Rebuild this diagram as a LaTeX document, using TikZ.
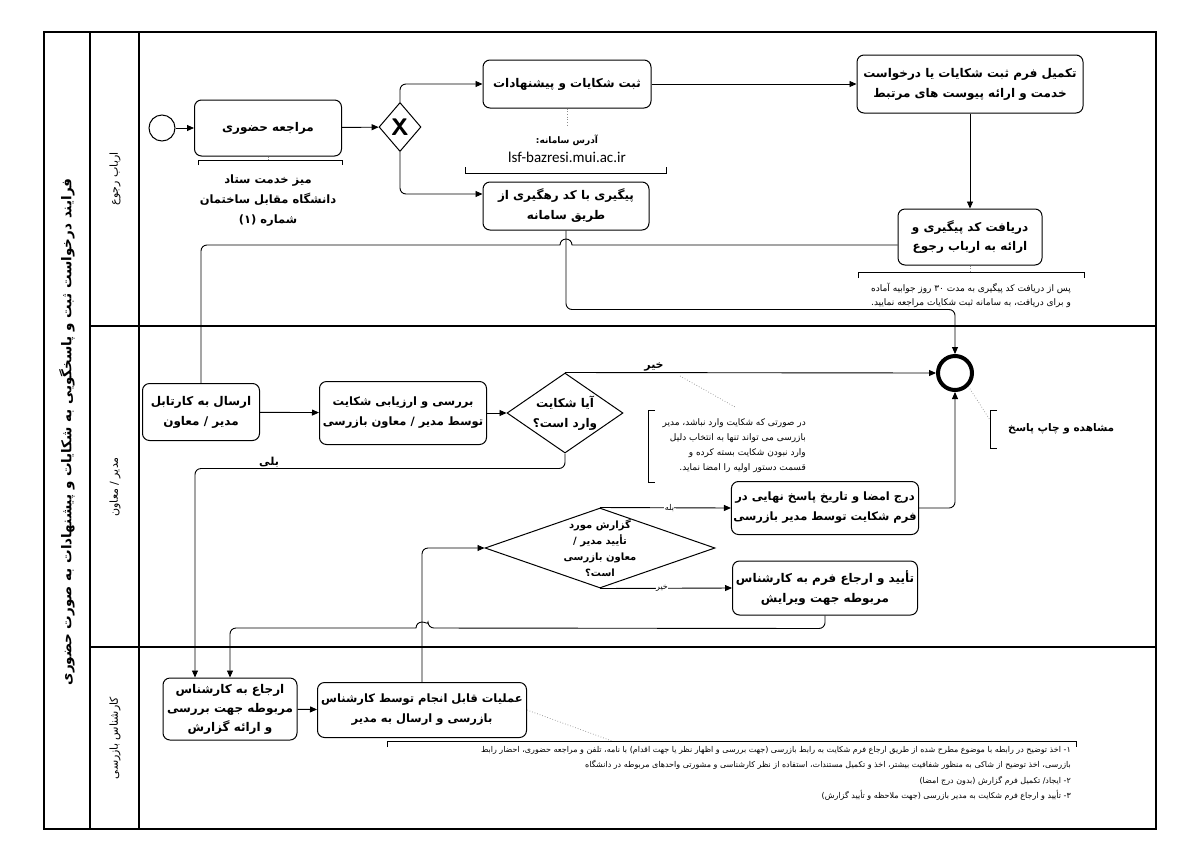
\documentclass[tikz,border=0pt]{standalone}
\usepackage{fontspec}
\usetikzlibrary{arrows.meta,positioning,shapes.geometric}
\TeXXeTstate=1
\newfontfamily\farsi[Script=Arabic]{DejaVu Sans}
\newfontfamily\urlfont{Carlito}
\newcommand{\fatxt}[1]{\beginR #1\endR}
\tikzset{
  task/.style={draw, rounded corners=7pt, line width=1pt, align=center,
    font=\farsi\bfseries\fontsize{12}{20}\selectfont, inner sep=2pt},
  gate/.style={draw, diamond, line width=1pt, inner sep=0pt},
  gatetext/.style={font=\farsi\bfseries\fontsize{12}{20}\selectfont, align=center, inner sep=0pt},
  flow/.style={-{Triangle[length=7pt,width=6pt]}, line width=0.9pt},
  link/.style={line width=0.9pt},
  assoc/.style={dotted, line width=0.7pt, draw=black!45},
  bracket/.style={line width=0.8pt},
  note/.style={font=\farsi\fontsize{8.5}{15}\selectfont, align=right, inner sep=0pt},
  boldnote/.style={font=\farsi\bfseries\fontsize{11.5}{20}\selectfont, align=center, inner sep=0pt},
  lanelabel/.style={rotate=90, font=\farsi\fontsize{11}{13}\selectfont},
  flowlabel/.style={font=\farsi\bfseries\fontsize{11}{13}\selectfont, inner sep=1pt},
  inlinelabel/.style={font=\farsi\fontsize{8}{9}\selectfont, fill=white, inner sep=0.5pt}
}
\begin{document}
\begin{tikzpicture}[x=1pt,y=-1pt]
\useasboundingbox (0,0) rectangle (1183,844);
\fill[white] (0,0) rectangle (1183,844);

% pool and lanes
\draw[line width=1.6pt] (44,32) rectangle (1156,829);
\draw[line width=1.2pt] (90,32) -- (90,829);
\draw[line width=1.2pt] (139,32) -- (139,829);
\draw[line width=1.2pt] (90,326) -- (1156,326);
\draw[line width=1.2pt] (90,647) -- (1156,647);
\node[rotate=90, font=\farsi\bfseries\fontsize{13.5}{16}\selectfont] (title) at (67,432)
  {\fatxt{فرایند درخواست ثبت و پاسخگویی به شکایات و پیشنهادات به صورت حضوری}};
\node[lanelabel] (laneA) at (115,179) {\fatxt{ارباب رجوع}};
\node[lanelabel] (laneB) at (115,487) {\fatxt{مدیر / معاون}};
\node[lanelabel] (laneC) at (115,738) {\fatxt{کارشناس بازرسی}};

% lane 1
\node[draw, circle, line width=1pt, minimum size=26pt] (start) at (162,128) {};
\node[task, minimum width=147pt, minimum height=56pt] (visit) at (268,128) {\fatxt{مراجعه حضوری}};
\node[gate, minimum width=42pt, minimum height=49pt] (gw) at (400,127) {};
\node[font=\sffamily\bfseries\fontsize{24}{24}\selectfont] (gwx) at (gw.center) {X};
\node[task, minimum width=168pt, minimum height=48pt] (reg) at (567,84) {\fatxt{ثبت شکایات و پیشنهادات}};
\node[task, minimum width=166pt, minimum height=48pt] (trk) at (566,206)
  {\fatxt{پیگیری با کد رهگیری از}\\\fatxt{طریق سامانه}};
\node[task, minimum width=226pt, minimum height=58pt] (form) at (970,84)
  {\fatxt{تکمیل فرم ثبت شکایات یا درخواست}\\\fatxt{خدمت و ارائه پیوست های مرتبط}};
\node[task, minimum width=144pt, minimum height=56pt] (code) at (970,237)
  {\fatxt{دریافت کد پیگیری و}\\\fatxt{ارائه به ارباب رجوع}};

% lane 2
\node[task, minimum width=117pt, minimum height=57pt] (send) at (201,412)
  {\fatxt{ارسال به کارتابل}\\\fatxt{مدیر / معاون}};
\node[task, minimum width=167pt, minimum height=63pt, font=\farsi\bfseries\fontsize{11.5}{20}\selectfont] (review) at (403,413)
  {\fatxt{بررسی و ارزیابی شکایت}\\\fatxt{توسط مدیر / معاون بازرسی}};
\node[gate, minimum width=116pt, minimum height=80pt] (valid) at (565,413) {};
\node[gatetext] (validq) at (valid.center) {\fatxt{آیا شکایت}\\\fatxt{وارد است؟}};
\node[draw, circle, line width=4pt, minimum size=34pt] (endev) at (955,373) {};
\node[task, minimum width=183pt, minimum height=53pt, font=\farsi\bfseries\fontsize{11.5}{20}\selectfont] (sign) at (825,508)
  {\fatxt{درج امضا و تاریخ پاسخ نهایی در}\\\fatxt{فرم شکایت توسط مدیر بازرسی}};
\node[gate, minimum width=230pt, minimum height=80pt] (approve) at (600,548) {};
\node[gatetext, font=\farsi\bfseries\fontsize{10}{16}\selectfont] (approveq) at (approve.center)
  {\fatxt{گزارش مورد}\\\fatxt{تأیید مدیر /}\\\fatxt{معاون بازرسی}\\\fatxt{است؟}};
\node[task, minimum width=185pt, minimum height=54pt] (ret) at (825,588)
  {\fatxt{تأیید و ارجاع فرم به کارشناس}\\\fatxt{مربوطه جهت ویرایش}};

% lane 3
\node[task, minimum width=134pt, minimum height=62pt, font=\farsi\bfseries\fontsize{12}{19}\selectfont] (refer) at (230,709)
  {\fatxt{ارجاع به کارشناس}\\\fatxt{مربوطه جهت بررسی}\\\fatxt{و ارائه گزارش}};
\node[task, minimum width=209pt, minimum height=55pt, font=\farsi\bfseries\fontsize{11.5}{20}\selectfont] (ops) at (422,710)
  {\fatxt{عملیات قابل انجام توسط کارشناس}\\\fatxt{بازرسی و ارسال به مدیر}};

% annotations
\draw[assoc] (visit.south) -- (268,160);
\draw[bracket] (198,165) -- (198,160) -- (342,160) -- (342,165);
\node[boldnote] (desk) at (268,201)
  {\fatxt{میز خدمت ستاد}\\\fatxt{دانشگاه مقابل ساختمان}\\\fatxt{شماره (۱)}};
\draw[assoc] (reg.south) -- (567,126);
\draw[bracket] (465,167) -- (465,173) -- (666,173) -- (666,167);
\node[font=\farsi\bfseries\fontsize{9}{10}\selectfont] (addr) at (567,140) {\fatxt{آدرس سامانه:}};
\node[font=\urlfont\fontsize{15}{17}\selectfont, below=0pt of addr] (url) {lsf-bazresi.mui.ac.ir};
\draw[assoc] (code.south) -- (970,272);
\draw[bracket] (858,278) -- (858,272) -- (1084,272) -- (1084,278);
\node[note, align=center, font=\farsi\fontsize{9}{14}\selectfont] (waitnote) at (971,295)
  {\fatxt{پس از دریافت کد پیگیری به مدت ۳۰ روز جوابیه آماده}\\\fatxt{و برای دریافت، به سامانه ثبت شکایات مراجعه نمایید.}};
\draw[assoc] (680,376) -- (735,407);
\draw[bracket] (655,410) -- (648,410) -- (648,482) -- (655,482);
\node[note, anchor=north east, font=\farsi\fontsize{9}{15}\selectfont] (rejnote) at (806,418)
  {\fatxt{در صورتی که شکایت وارد نباشد، مدیر}\\\fatxt{بازرسی می تواند تنها به انتخاب دلیل}\\\fatxt{وارد نبودن شکایت بسته کرده و}\\\fatxt{قسمت دستور اولیه را امضا نماید.}};
\draw[assoc] (endev.south east) -- (990,420);
\draw[bracket] (997,410) -- (990,410) -- (990,448) -- (997,448);
\node[boldnote, anchor=west, font=\farsi\bfseries\fontsize{10.5}{18}\selectfont] (printnote) at (1008,429) {\fatxt{مشاهده و چاپ پاسخ}};
\draw[assoc] (ops.east) -- (612,741);
\draw[bracket] (387,747) -- (387,741) -- (1076,741) -- (1076,747);
\node[note, anchor=north east, font=\farsi\fontsize{8}{15.5}\selectfont] (opsnote) at (1071,746)
  {\fatxt{۱- اخذ توضیح در رابطه با موضوع مطرح شده از طریق ارجاع فرم شکایت به رابط بازرسی (جهت بررسی و اظهار نظر یا جهت اقدام) با نامه، تلفن و مراجعه حضوری، احضار رابط}\\
   \fatxt{بازرسی، اخذ توضیح از شاکی به منظور شفافیت بیشتر، اخذ و تکمیل مستندات، استفاده از نظر کارشناسی و مشورتی واحدهای مربوطه در دانشگاه}\\
   \fatxt{۲- ایجاد/ تکمیل فرم گزارش (بدون درج امضا)}\\
   \fatxt{۳- تأیید و ارجاع فرم شکایت به مدیر بازرسی (جهت ملاحظه و تأیید گزارش)}};

% connectors
\coordinate (j1) at (566,245);
\coordinate (j2) at (422,628);
\draw[flow] (start) -- (visit);
\draw[flow] (visit) -- (gw);
\draw[flow, rounded corners=6pt] (gw.north) |- (reg.west);
\draw[flow, rounded corners=6pt] (gw.south) |- ([yshift=12pt]trk.west);
\draw[flow] (reg) -- (form);
\draw[flow] (form) -- (code);
\draw[link] ([yshift=-8pt]code.west) -- ([xshift=6pt]j1) arc[start angle=0, end angle=180, radius=6pt]
  [rounded corners=6pt] -- (j1 -| send.north) -- (send.north);
\draw[flow, rounded corners=6pt] (trk.south) -- ++(0,79) -| (endev.north);
\draw[flow] (send) -- (review);
\draw[flow] (review) -- (valid);
\draw[flow] (valid.north) -- node[flowlabel, above, pos=0.24] {\fatxt{خیر}} (endev.west);
\draw[flow, rounded corners=6pt] (valid.south) -- ++(0,15)
  -| node[flowlabel, above, pos=0.4] {\fatxt{بلی}} ([xshift=-35pt]refer.north);
\draw[flow, rounded corners=6pt] (sign.east) -| (endev.south);
\draw[flow] (approve.north) -- node[inlinelabel, pos=0.53] {\fatxt{بله}} (sign.west);
\draw[flow] (approve.south) -- node[inlinelabel, pos=0.47] {\fatxt{خیر}} (ret.west);
\draw[flow] (ret.south) [rounded corners=6pt] -- ++(0,13) -- ([xshift=6pt]j2) [sharp corners]
  arc[start angle=0, end angle=180, radius=6pt] [rounded corners=6pt] -- (j2 -| refer.north) -- (refer.north);
\draw[flow, rounded corners=6pt] (ops.north) |- (approve.west);
\draw[flow] (refer) -- (ops);
\end{tikzpicture}
\end{document}
